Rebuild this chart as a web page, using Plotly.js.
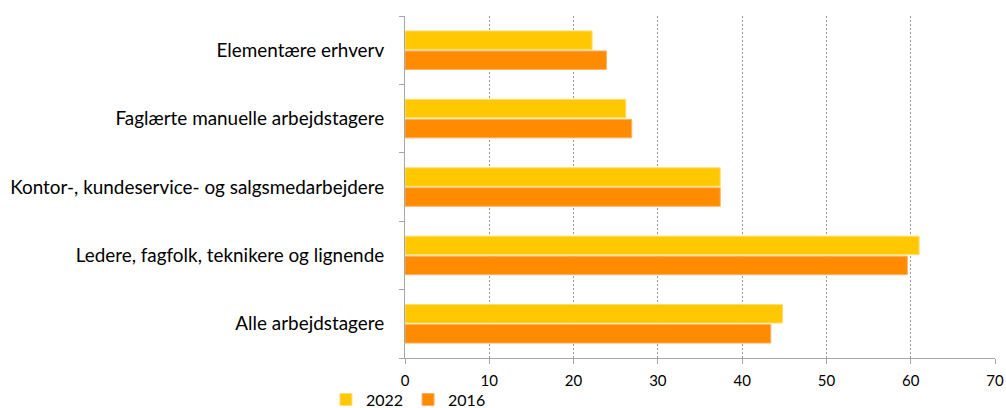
<!DOCTYPE html>
<html>
<head>
<meta charset="utf-8">
<script src="https://cdn.plot.ly/plotly-3.0.1.min.js"></script>
<style>
  html, body { margin: 0; padding: 0; background: #fff; }
  #myPlot { width: 1006px; height: 408px; }
</style>
</head>
<body>
<div id="myPlot"></div>
<script>
// categories, bottom to top
var groups = [
    "Alle arbejdstagere",
    "Ledere, fagfolk, teknikere og lignende",
    "Kontor-, kundeservice- og salgsmedarbejdere",
    "Faglærte manuelle arbejdstagere",
    "Elementære erhverv"
];
var values2022 = [44.8, 61.0, 37.4, 26.2, 22.2];
var values2016 = [43.4, 59.6, 37.4, 26.9, 23.9];

var labelFont = "Lato, 'Open Sans', sans-serif";

// Define Data (2016 first so it sits below 2022 in each group)
var data = [
    {
        y: groups, x: values2016, name: "2016", type: "bar", orientation: "h",
        marker: { color: "#ff8c00", line: { color: "#ffb060", width: 1 } },
        legendrank: 2, hoverinfo: "x+name"
    },
    {
        y: groups, x: values2022, name: "2022", type: "bar", orientation: "h",
        marker: { color: "#ffc800", line: { color: "#ffe070", width: 1 } },
        legendrank: 1, hoverinfo: "x+name"
    }
];

// Define Layout
var layout = {
    width: 1006, height: 408,
    margin: { l: 405, r: 11, t: 16, b: 50, autoexpand: false },
    paper_bgcolor: "#fff", plot_bgcolor: "#fff",
    barmode: "group", bargap: 0.415, bargroupgap: 0.075,
    font: { family: labelFont, color: "#000", size: 15 },
    xaxis: {
        range: [0, 70], dtick: 10, tick0: 0,
        showgrid: true, gridcolor: "#999999", griddash: "2px,2px", gridwidth: 1,
        zeroline: false, showline: true, linecolor: "#a6a6a6", linewidth: 1,
        ticks: "outside", ticklen: 5, tickcolor: "#a6a6a6",
        ticklabelstandoff: 4, tickfont: { size: 15 }, fixedrange: true
    },
    yaxis: {
        type: "category", showgrid: false, zeroline: false,
        showline: true, linecolor: "#a6a6a6", linewidth: 1,
        ticks: "outside", tickson: "boundaries", ticklen: 5, tickcolor: "#a6a6a6",
        ticklabelstandoff: 16, tickfont: { size: 18.9 }, fixedrange: true
    },
    showlegend: true,
    legend: {
        orientation: "h", x: -0.134, xanchor: "left", y: -0.072, yanchor: "top",
        bgcolor: "rgba(0,0,0,0)", font: { size: 16 },
        itemwidth: 30, tracegroupgap: 0
    }
};

Plotly.newPlot("myPlot", data, layout, { displayModeBar: false, staticPlot: true });
</script>
</body>
</html>
